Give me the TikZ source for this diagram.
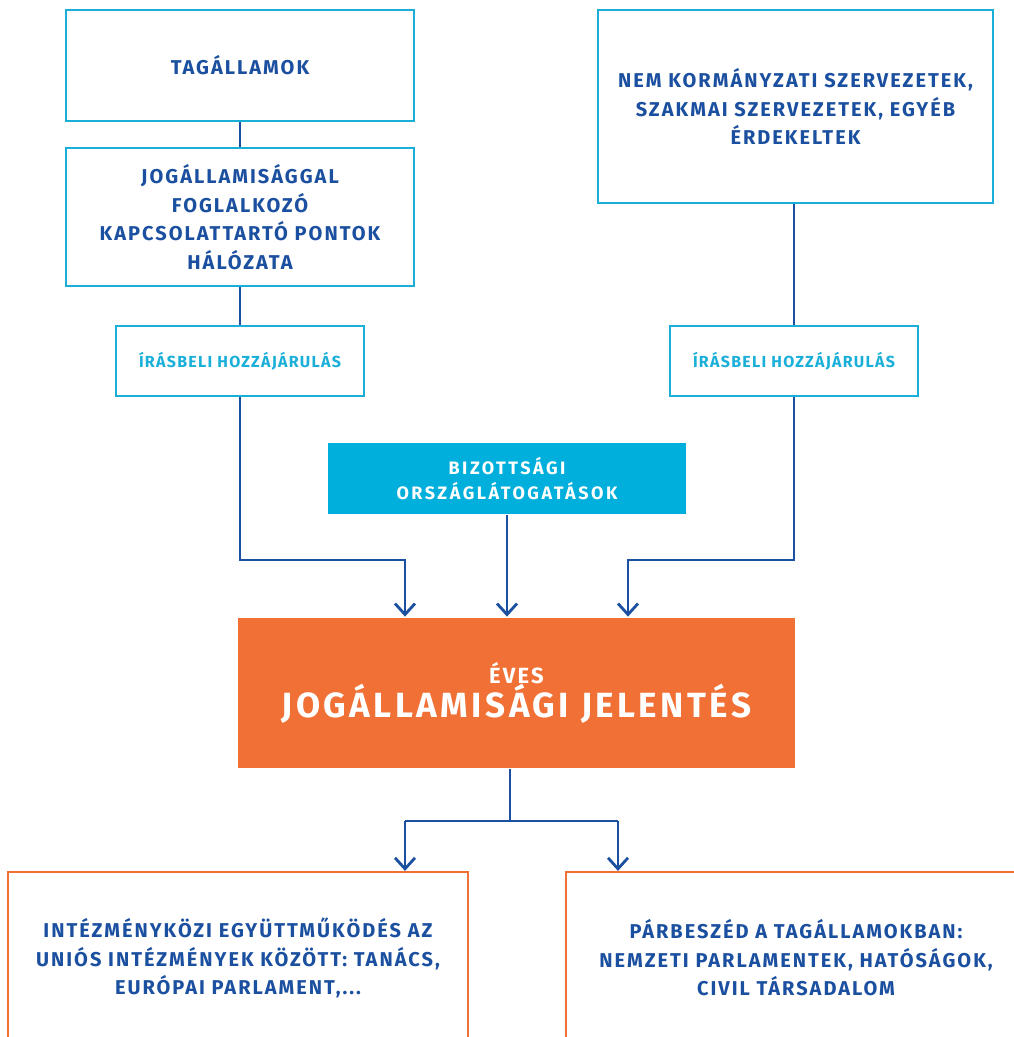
\documentclass[tikz,border=0pt]{standalone}
\usepackage{fontspec}
\setmainfont{Fira Sans}
\newfontfamily\boxfont[LetterSpace=10]{Fira Sans}
\newfontfamily\inputfont[LetterSpace=8]{Fira Sans}
\newfontfamily\trackfont[LetterSpace=14]{Fira Sans}
\newfontfamily\reportfont[LetterSpace=10]{Fira Sans}
\usetikzlibrary{arrows.meta}
\definecolor{ecblue}{HTML}{1B4F9F}
\definecolor{eccyan}{HTML}{1AAFD9}
\definecolor{ecfill}{HTML}{00AFDB}
\definecolor{ecorange}{HTML}{F07035}

\begin{document}
\begin{tikzpicture}[x=1pt,y=-1pt,>={Straight Barb[length=11pt,width=20pt]},
                    line width=2.8pt,draw=ecblue,
                    main box/.style={draw=eccyan,line width=2.2pt,align=center,text=ecblue,
                                     font=\boxfont\bfseries\fontsize{20}{28.5}\selectfont},
                    input box/.style={main box,text=eccyan,font=\inputfont\bfseries\fontsize{16}{20}\selectfont,
                                      minimum width=248pt,minimum height=70pt},
                    visit box/.style={fill=ecfill,align=center,text=white,
                                      font=\trackfont\bfseries\fontsize{18}{24.5}\selectfont},
                    report box/.style={fill=ecorange,align=center,text=white},
                    out box/.style={main box,draw=ecorange,minimum width=460pt,minimum height=172pt}]
  \useasboundingbox (0,0) rectangle (1014,1037);
  \node[main box,minimum width=348pt,minimum height=111pt] (tag) at (240,65.5) {TAGÁLLAMOK};
  \node[main box,minimum width=348pt,minimum height=138pt] (net) at (240,217)
       {JOGÁLLAMISÁGGAL\\FOGLALKOZÓ\\KAPCSOLATTARTÓ PONTOK\\HÁLÓZATA};
  \node[input box] (inL) at (240,361) {ÍRÁSBELI HOZZÁJÁRULÁS};
  \node[main box,minimum width=395pt,minimum height=193pt] (ngo) at (795.5,106.5)
       {NEM KORMÁNYZATI SZERVEZETEK,\\SZAKMAI SZERVEZETEK, EGYÉB\\ÉRDEKELTEK};
  \node[input box] (inR) at (794,361) {ÍRÁSBELI HOZZÁJÁRULÁS};
  \node[visit box,minimum width=358pt,minimum height=71pt] (visit) at (507,478.5)
       {BIZOTTSÁGI\\ORSZÁGLÁTOGATÁSOK};
  \node[report box,minimum width=557pt,minimum height=150pt] (rep) at (516.5,693)
       {{\reportfont\bfseries\fontsize{22}{30}\selectfont ÉVES}\\[0pt]
        {\reportfont\bfseries\fontsize{35}{40}\selectfont JOGÁLLAMISÁGI JELENTÉS}};
  \node[out box] (eu) at (238,958)
       {INTÉZMÉNYKÖZI EGYÜTTMŰKÖDÉS AZ\\UNIÓS INTÉZMÉNYEK KÖZÖTT: TANÁCS,\\EURÓPAI PARLAMENT,...};
  \node[out box] (dia) at (796,958)
       {PÁRBESZÉD A TAGÁLLAMOKBAN:\\NEMZETI PARLAMENTEK, HATÓSÁGOK,\\CIVIL TÁRSADALOM};

  \coordinate (bendL) at (405,560);
  \coordinate (bendR) at (628,560);
  \coordinate (split) at (510,821);
  \coordinate (outL) at (405,821);
  \coordinate (outR) at (618,821);

  \draw[ecblue] (tag) -- (net);
  \draw[ecblue] (net) -- (inL);
  \draw[ecblue] (ngo.south -| inR) -- (inR);
  \draw[ecblue,->] (inL.south) |- (bendL) -- (rep.north -| bendL);
  \draw[ecblue,->] (inR.south) |- (bendR) -- (rep.north -| bendR);
  \draw[ecblue,->] (visit) -- (rep.north -| visit);
  \draw[ecblue] (rep.south -| split) -- (split);
  \draw[ecblue] (outL) -- (outR);
  \draw[ecblue,->] (outL) -- (eu.north -| outL);
  \draw[ecblue,->] (outR) -- (dia.north -| outR);
\end{tikzpicture}
\end{document}
